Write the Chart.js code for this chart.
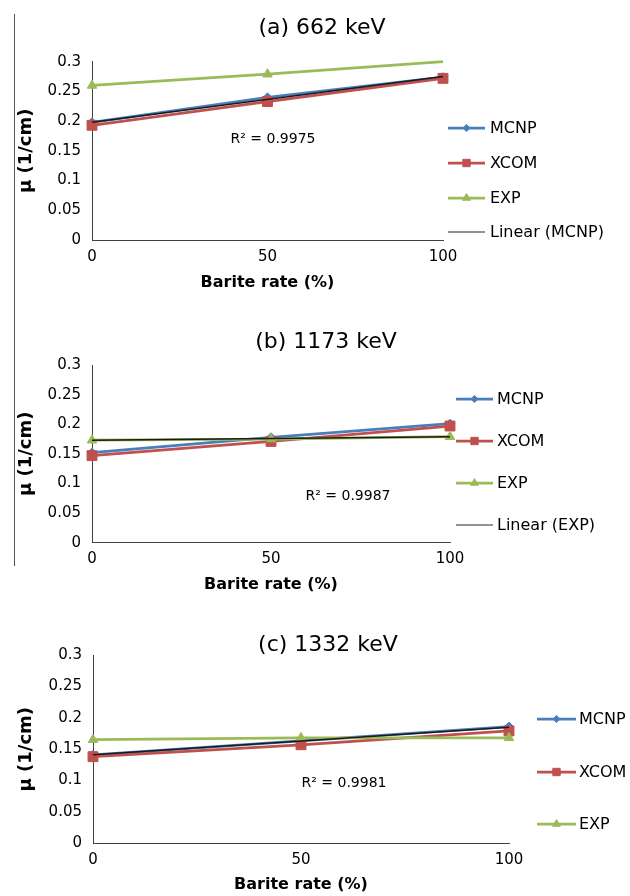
<!DOCTYPE html>
<html>
<head>
<meta charset="utf-8">
<script src="https://cdn.jsdelivr.net/npm/chart.js@4.4.0/dist/chart.umd.min.js"></script>
<style>
html,body{margin:0;padding:0;background:#fff;}
#wrap{position:relative;width:630px;height:896px;overflow:hidden;background:#fff;}
.band{position:absolute;left:0;width:630px;}
#edge{position:absolute;left:14px;top:14px;width:1px;height:552px;background:#555;}
</style>
</head>
<body>
<div id="wrap">
  <div id="edge"></div>
  <div class="band" style="top:0;height:300px"><canvas id="cA" width="630" height="300"></canvas></div>
  <div class="band" style="top:300px;height:300px"><canvas id="cB" width="630" height="300"></canvas></div>
  <div class="band" style="top:600px;height:296px"><canvas id="cC" width="630" height="296"></canvas></div>
</div>
<script>
// ---------- data ----------
const baritePct = [0, 50, 100];          // x categories (Barite rate %)
const trendPct = [0, 100];               // trendline end points x
const xTickLabels = ['0', '50', '100'];
const yTickLabels = ['0', '0.05', '0.1', '0.15', '0.2', '0.25', '0.3'];

const chartTitles = ['(a) 662 keV', '(b) 1173 keV', '(c) 1332 keV'];
const r2Labels = ['R² = 0.9975', 'R² = 0.9987', 'R² = 0.9981'];
const trendNames = ['Linear (MCNP)', 'Linear (EXP)', 'Linear (MCNP)'];

// (a) 662 keV
const mcnp662 = [0.198, 0.240, 0.274];
const xcom662 = [0.193, 0.233, 0.272];
const exp662  = [0.260, 0.279, 0.300];
const trend662 = [0.198, 0.275];
// (b) 1173 keV
const mcnp1173 = [0.152, 0.178, 0.201];
const xcom1173 = [0.147, 0.171, 0.197];
const exp1173  = [0.173, 0.175, 0.179];
const trend1173 = [0.173, 0.179];
// (c) 1332 keV
const mcnp1332 = [0.141, 0.163, 0.186];
const xcom1332 = [0.138, 0.157, 0.179];
const exp1332  = [0.165, 0.168, 0.168];
const trend1332 = [0.141, 0.185];

// ---------- styling ----------
const FONT = "'DejaVu Sans', sans-serif";
const COL = { mcnp: '#4a7ebb', xcom: '#c0504d', exp: '#9bbb59', trend: '#1a1a1a', axis: '#404040' };

function pts(xs, ys) { return xs.map((x, i) => ({ x: x, y: ys[i] })); }

function drawMarker(ctx, style, x, y, r, color) {
  ctx.save();
  ctx.fillStyle = color; ctx.strokeStyle = color; ctx.lineWidth = 1;
  ctx.beginPath();
  if (style === 'rect') {
    const s = r * Math.SQRT1_2;
    ctx.rect(x - s, y - s, 2 * s, 2 * s);
  } else if (style === 'rectRot') {
    ctx.moveTo(x, y - r); ctx.lineTo(x + r, y); ctx.lineTo(x, y + r); ctx.lineTo(x - r, y); ctx.closePath();
  } else if (style === 'triangle') {
    ctx.moveTo(x, y - r);
    ctx.lineTo(x + r * 0.866, y + r * 0.5);
    ctx.lineTo(x - r * 0.866, y + r * 0.5);
    ctx.closePath();
  }
  ctx.fill(); ctx.stroke();
  ctx.restore();
}

const excelDecor = {
  id: 'excelDecor',
  afterDraw(chart, args, opts) {
    const ctx = chart.ctx;
    ctx.save();
    (opts.texts || []).forEach(t => {
      ctx.font = t.font; ctx.fillStyle = '#000';
      ctx.textAlign = 'center'; ctx.textBaseline = 'middle';
      ctx.fillText(t.text, t.x, t.y);
    });
    const lg = opts.legend;
    if (lg) {
      chart.data.datasets.forEach((ds, i) => {
        const y = lg.rows[i];
        if (y === undefined) return;
        ctx.strokeStyle = ds.legendColor || ds.borderColor;
        ctx.lineWidth = ds.legendLineWidth || ds.borderWidth;
        ctx.beginPath(); ctx.moveTo(lg.x, y); ctx.lineTo(lg.x + lg.len, y); ctx.stroke();
        if (ds.legendRadius) drawMarker(ctx, ds.pointStyle, lg.x + lg.len / 2, y, ds.legendRadius, ds.borderColor);
        ctx.font = '16px ' + FONT; ctx.fillStyle = '#000';
        ctx.textAlign = 'left'; ctx.textBaseline = 'middle';
        ctx.fillText(ds.label, lg.textX, y + 1);
      });
    }
    ctx.restore();
  }
};

function makeChart(id, d, g) {
  const datasets = [
    { label: 'MCNP', data: pts(baritePct, d.mcnp), borderColor: COL.mcnp, backgroundColor: COL.mcnp,
      borderWidth: 2.75, pointStyle: 'rectRot', pointRadius: 4.5, legendRadius: 3.6, order: 3 },
    { label: 'XCOM', data: pts(baritePct, d.xcom), borderColor: COL.xcom, backgroundColor: COL.xcom,
      borderWidth: 2.75, pointStyle: 'rect', pointRadius: 7, legendRadius: 5.2, order: 2 },
    { label: 'EXP', data: pts(baritePct, d.exp), borderColor: COL.exp, backgroundColor: COL.exp,
      borderWidth: 2.75, pointStyle: 'triangle', pointRadius: d.expRadius || 5.5, legendRadius: 4.5, order: 1 },
    { label: d.trendName, data: pts(trendPct, d.trend), borderColor: COL.trend, backgroundColor: COL.trend,
      borderWidth: 1.5, pointRadius: 0, legendColor: '#6e6e6e', legendLineWidth: 1.5, order: 0 }
  ];
  datasets.forEach(ds => { ds.clip = false; ds.tension = 0; ds.fill = false; ds.pointBorderWidth = 1; ds.pointHoverRadius = 0; });

  return new Chart(document.getElementById(id), {
    type: 'line',
    data: { datasets: datasets },
    plugins: [excelDecor],
    options: {
      responsive: false,
      animation: false,
      events: [],
      layout: { padding: { left: g.padL, top: g.padT, right: g.padR, bottom: g.padB } },
      plugins: {
        legend: { display: false },
        title: { display: false },
        tooltip: { enabled: false },
        excelDecor: {
          texts: [
            { text: d.title, x: g.titleX, y: g.titleY, font: '22px ' + FONT },
            { text: d.r2, x: g.r2X, y: g.r2Y, font: '14px ' + FONT }
          ],
          legend: g.legend
        }
      },
      scales: {
        x: {
          type: 'linear', min: 0, max: 100,
          grid: { display: false, drawTicks: false },
          border: { display: true, color: COL.axis, width: 1 },
          ticks: { stepSize: 50, padding: g.xTickPad, color: '#000', font: { family: FONT, size: 15 },
                   callback: (v, i) => xTickLabels[i] },
          title: { display: true, text: 'Barite rate (%)', color: '#000', padding: 0,
                   font: { family: FONT, size: 16, weight: 'bold' } },
          afterFit: s => { s.height = g.xH; }
        },
        y: {
          min: 0, max: 0.3,
          grid: { display: false, drawTicks: false },
          border: { display: true, color: COL.axis, width: 1 },
          ticks: { stepSize: 0.05, padding: 11, color: '#000', font: { family: FONT, size: 15 },
                   callback: (v, i) => yTickLabels[i] },
          title: { display: true, text: 'μ (1/cm)', color: '#000', padding: 0,
                   font: { family: FONT, size: 18, weight: 'bold' } },
          afterFit: s => { s.width = g.yW; }
        }
      }
    }
  });
}

makeChart('cA',
  { mcnp: mcnp662, xcom: xcom662, exp: exp662, trend: trend662, trendName: trendNames[0],
    title: chartTitles[0], r2: r2Labels[0], expRadius: [5.5, 5.5, 0] },
  { padL: 16, padT: 61.7, padR: 187, padB: 7.4, yW: 76, xH: 52.6, xTickPad: 8,
    titleX: 322, titleY: 28, r2X: 273, r2Y: 139,
    legend: { x: 448, len: 37, textX: 490, rows: [128, 163, 198, 232] } });

makeChart('cB',
  { mcnp: mcnp1173, xcom: xcom1173, exp: exp1173, trend: trend1173, trendName: trendNames[1],
    title: chartTitles[1], r2: r2Labels[1] },
  { padL: 16, padT: 65, padR: 180, padB: 5.4, yW: 76, xH: 51.9, xTickPad: 7.3,
    titleX: 326, titleY: 42, r2X: 348, r2Y: 196,
    legend: { x: 456, len: 37, textX: 497, rows: [99, 141, 183, 225] } });

makeChart('cC',
  { mcnp: mcnp1332, xcom: xcom1332, exp: exp1332, trend: trend1332, trendName: trendNames[2],
    title: chartTitles[2], r2: r2Labels[2] },
  { padL: 16, padT: 55, padR: 121, padB: 1.4, yW: 77, xH: 51.3, xTickPad: 7.7,
    titleX: 328, titleY: 45, r2X: 344, r2Y: 183,
    legend: { x: 537, len: 39, textX: 579, rows: [119, 172, 224] } });
</script>
</body>
</html>
